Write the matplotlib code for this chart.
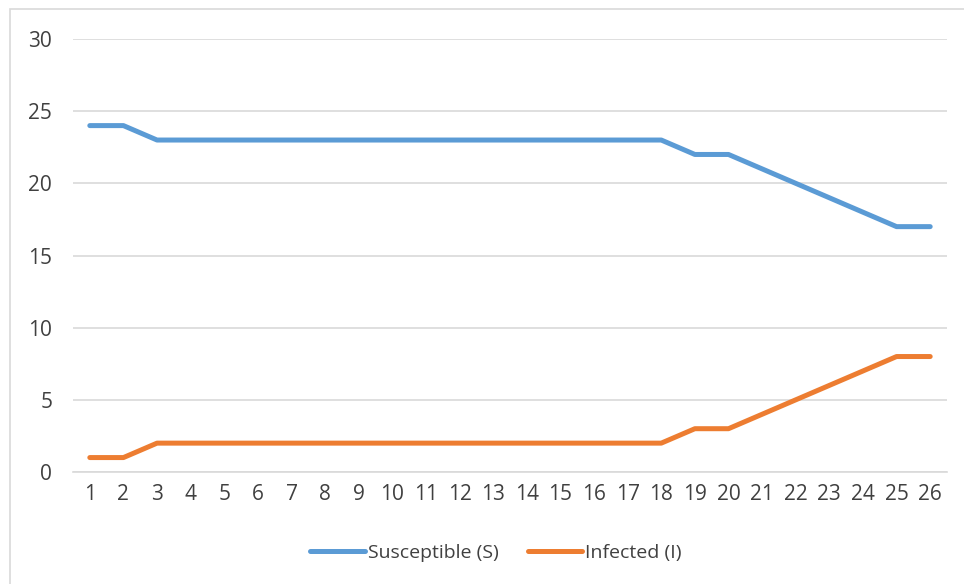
import matplotlib
matplotlib.use('agg')
import matplotlib.pyplot as plt
from matplotlib.patches import Rectangle

## Data
days = list(range(1, 27))
susceptible = [24, 24] + [23] * 16 + [22, 22, 21, 20, 19, 18, 17, 17]
infected = [1, 1] + [2] * 16 + [3, 3, 4, 5, 6, 7, 8, 8]
y_ticks = [0, 5, 10, 15, 20, 25, 30]

plt.rcParams['font.family'] = ['Open Sans', 'DejaVu Sans']

fig = plt.figure(figsize=(9.64, 5.84), dpi=100)
ax = fig.add_axes([73 / 964, 1 - 472 / 584, (947 - 73) / 964, (472 - 39) / 584])

# outer chart frame
fig.patches.append(Rectangle((10 / 964, -0.1), 1.1, 1 - 9 / 584 + 0.1, transform=fig.transFigure,
                             fill=False, edgecolor='#d9d9d9', linewidth=1.2))

ax.plot(days, susceptible, color='#5b9bd5', linewidth=3.6, solid_capstyle='round',
        solid_joinstyle='round', label='Susceptible (S)')
ax.plot(days, infected, color='#ed7d31', linewidth=3.6, solid_capstyle='round',
        solid_joinstyle='round', label='Infected (I)')

ax.set_xlim(0.5, 26.5)
ax.set_ylim(0, 30)
ax.set_xticks(days)
ax.set_yticks(y_ticks)
ax.grid(axis='y', color='#d9d9d9', linewidth=1.2)
ax.set_axisbelow(True)
for s in ['left', 'right', 'top']:
    ax.spines[s].set_visible(False)
ax.spines['bottom'].set_color('#d9d9d9')
ax.spines['bottom'].set_linewidth(1.2)
ax.tick_params(length=0, labelsize=15, colors='#404040')
ax.tick_params(axis='x', pad=9)
ax.tick_params(axis='y', pad=15)

fig.legend(loc='center', bbox_to_anchor=(496 / 964, 1 - 553 / 584), ncol=2, frameon=False,
           fontsize=14, handlelength=2.8, handletextpad=0.15, columnspacing=1.5,
           labelcolor='#404040')

plt.savefig('out.png')
